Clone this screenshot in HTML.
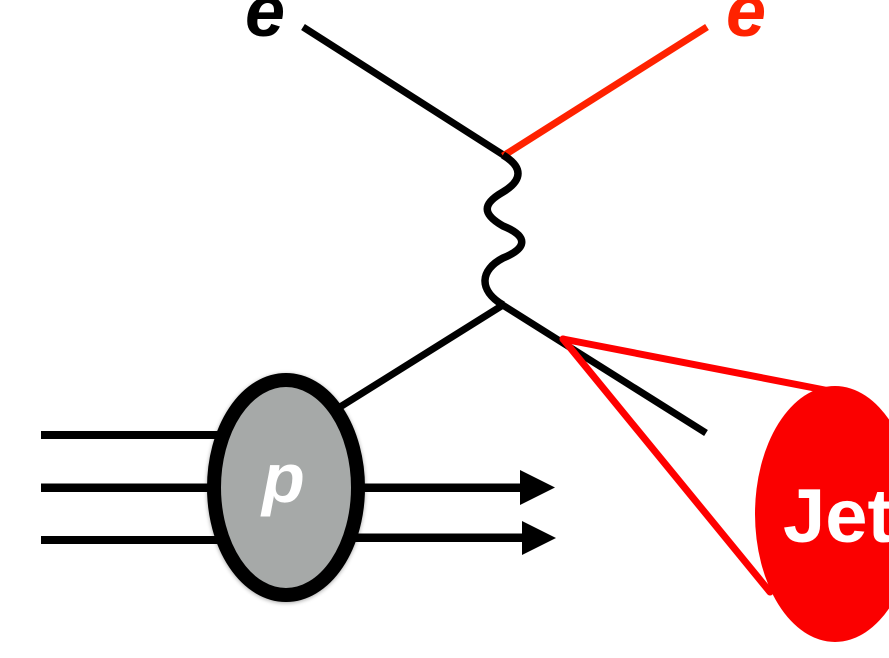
<!DOCTYPE html>
<html>
<head>
<meta charset="utf-8">
<style>
  html, body { margin: 0; padding: 0; background: #ffffff; }
  body { width: 889px; height: 658px; overflow: hidden; }
  svg { display: block; }
  text { font-family: "Liberation Sans", "DejaVu Sans", sans-serif; font-weight: bold; }
</style>
</head>
<body>
<svg width="889" height="658" viewBox="0 0 889 658" xmlns="http://www.w3.org/2000/svg">
  <defs>
    <filter id="sh" x="-20%" y="-20%" width="140%" height="140%">
      <feGaussianBlur in="SourceAlpha" stdDeviation="2"/>
      <feOffset dx="0" dy="1" result="b"/>
      <feComponentTransfer><feFuncA type="linear" slope="0.35"/></feComponentTransfer>
      <feMerge><feMergeNode/><feMergeNode in="SourceGraphic"/></feMerge>
    </filter>
  </defs>

  <!-- electron labels -->
  <text x="245" y="36" font-size="72" font-style="italic" fill="#000">e</text>
  <text x="726" y="36" font-size="72" font-style="italic" fill="#ff2200">e</text>

  <!-- incoming electron -->
  <line x1="303" y1="27" x2="505" y2="156" stroke="#000" stroke-width="7"/>
  <!-- outgoing electron (red) -->
  <line x1="503" y1="156" x2="707" y2="27" stroke="#ff2200" stroke-width="7"/>

  <!-- photon wave -->
  <path d="M503,155 C523,167 523,180 503,192 C482,204 482,214 503,226 C528,236 528,248 503,258 C480,270 478,290 503,305"
        fill="none" stroke="#000" stroke-width="7.5" stroke-linejoin="round"/>

  <!-- quark lines from lower vertex -->
  <line x1="503" y1="305" x2="340" y2="407" stroke="#000" stroke-width="7"/>
  <line x1="501" y1="304" x2="706" y2="433" stroke="#000" stroke-width="7"/>

  <!-- jet cone -->
  <line x1="563" y1="339" x2="835" y2="392" stroke="#ff0000" stroke-width="7" stroke-linecap="round"/>
  <line x1="563" y1="339" x2="770" y2="592" stroke="#ff0000" stroke-width="7" stroke-linecap="round"/>
  <ellipse cx="835" cy="514" rx="80" ry="128" fill="#fb0000"/>
  <text x="783" y="542" font-size="76" fill="#ffffff">Jet</text>

  <!-- proton horizontal lines (left) -->
  <rect x="41" y="431" width="180" height="8" fill="#000"/>
  <rect x="41" y="483.5" width="180" height="8.5" fill="#000"/>
  <rect x="41" y="536" width="180" height="8" fill="#000"/>

  <!-- proton right lines with arrows -->
  <rect x="350" y="483.5" width="175" height="8.5" fill="#000"/>
  <polygon points="520,470 555,487.5 520,505" fill="#000"/>
  <rect x="350" y="533.5" width="177" height="8.5" fill="#000"/>
  <polygon points="522,521 556,538 522,555" fill="#000"/>

  <!-- proton ellipse -->
  <ellipse cx="286" cy="487.5" rx="72" ry="107.5" fill="#a6a9a8" stroke="#000" stroke-width="14" filter="url(#sh)"/>
  <text x="262" y="502" font-size="70" font-style="italic" fill="#ffffff">p</text>
</svg>
</body>
</html>
